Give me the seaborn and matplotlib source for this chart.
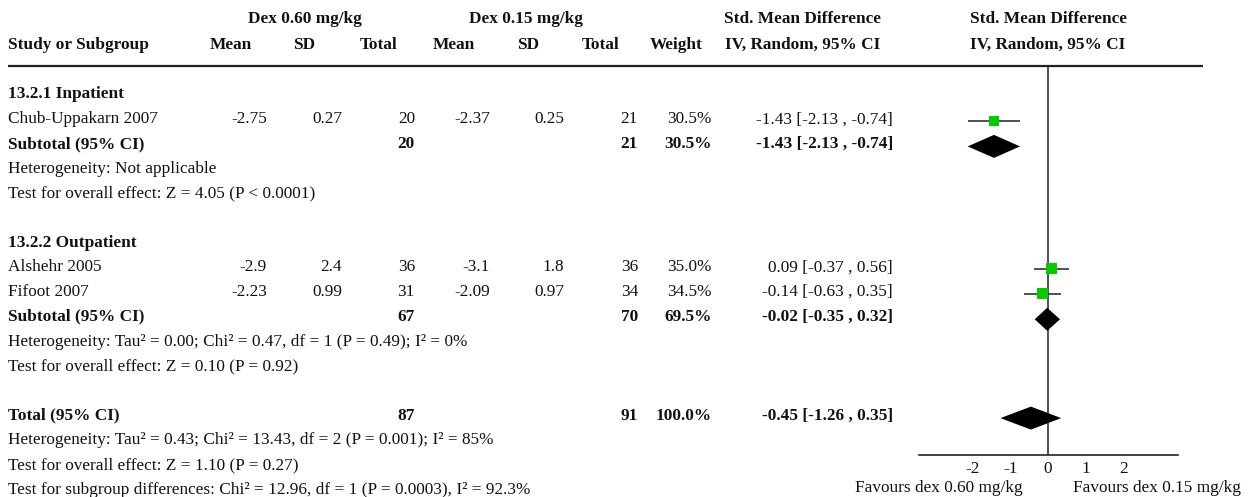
import matplotlib
matplotlib.use("Agg")
import matplotlib.pyplot as plt
import seaborn as sns
import pandas as pd

# ---- study-level data ----
groups = ["13.2.1 Inpatient", "13.2.2 Outpatient"]
studies = ["Chub-Uppakarn 2007", "Alshehr 2005", "Fifoot 2007"]
study_group = [0, 1, 1]
mean_060 = [-2.75, -2.9, -2.23]
sd_060 = [0.27, 2.4, 0.99]
n_060 = [20, 36, 31]
mean_015 = [-2.37, -3.1, -2.09]
sd_015 = [0.25, 1.8, 0.97]
n_015 = [21, 36, 34]
weights = [30.5, 35.0, 34.5]
smd = [-1.43, 0.09, -0.14]
ci_low = [-2.13, -0.37, -0.63]
ci_high = [-0.74, 0.56, 0.35]

# ---- pooled estimates: subtotal inpatient, subtotal outpatient, overall ----
pooled_labels = ["Subtotal (95% CI)", "Subtotal (95% CI)", "Total (95% CI)"]
pooled_n_060 = [20, 67, 87]
pooled_n_015 = [21, 70, 91]
pooled_weight = [30.5, 69.5, 100.0]
pooled_smd = [-1.43, -0.02, -0.45]
pooled_low = [-2.13, -0.35, -1.26]
pooled_high = [-0.74, 0.32, 0.35]

het_lines = [
    ["Heterogeneity: Not applicable",
     "Test for overall effect: Z = 4.05 (P < 0.0001)"],
    ["Heterogeneity: Tau\u00b2 = 0.00; Chi\u00b2 = 0.47, df = 1 (P = 0.49); I\u00b2 = 0%",
     "Test for overall effect: Z = 0.10 (P = 0.92)"],
    ["Heterogeneity: Tau\u00b2 = 0.43; Chi\u00b2 = 13.43, df = 2 (P = 0.001); I\u00b2 = 85%",
     "Test for overall effect: Z = 1.10 (P = 0.27)",
     "Test for subgroup differences: Chi\u00b2 = 12.96, df = 1 (P = 0.0003), I\u00b2 = 92.3%"],
]

x_ticks = [-2, -1, 0, 1, 2]
favours_left = "Favours dex 0.60 mg/kg"
favours_right = "Favours dex 0.15 mg/kg"

# ---- styling ----
sns.set_style("white")
plt.rcParams["font.family"] = ["Liberation Serif", "DejaVu Serif"]
FS = 12.4
TXT = "#111111"
GREEN = "#00CC00"

W, H = 1251, 497
fig = plt.figure(figsize=(W / 100, H / 100), dpi=100)
tab = fig.add_axes([0, 0, 1, 1])
tab.set_xlim(0, W)
tab.set_ylim(H, 0)
tab.axis("off")

ROW0, STEP = 93.0, 24.7


def row_y(i):
    return ROW0 + STEP * i


def put(x, i, s, ha="left", bold=False, dy=5.5):
    tab.text(x, row_y(i) + dy, s, ha=ha, va="baseline", fontsize=FS,
             fontweight="bold" if bold else "normal", color=TXT)


# column anchors (right edges of numeric columns)
X_STUDY = 8
cols = dict(m1=267, s1=342, n1=415, m2=490, s2=564, n2=638, w=712, ci=893)

# ---- header ----
hy1, hy2 = 23, 49
def head(x, y, s, ha="center"):
    tab.text(x, y, s, ha=ha, va="baseline", fontsize=FS, fontweight="bold", color=TXT)

head(305, hy1, "Dex 0.60 mg/kg")
head(526, hy1, "Dex 0.15 mg/kg")
head(803, hy1, "Std. Mean Difference")
head(1048, hy1, "Std. Mean Difference")
head(X_STUDY, hy2, "Study or Subgroup", ha="left")
head(231, hy2, "Mean")
head(304, hy2, "SD")
head(379, hy2, "Total")
head(454, hy2, "Mean")
head(528, hy2, "SD")
head(601, hy2, "Total")
head(676, hy2, "Weight")
head(803, hy2, "IV, Random, 95% CI")
head(1048, hy2, "IV, Random, 95% CI")

tab.plot([8, 1203], [66, 66], color="#222222", lw=1.6, solid_capstyle="butt")


def ci_text(e, lo, hi):
    return f"{e:.2f} [{lo:.2f} , {hi:.2f}]"


# ---- row layout ----
group_rows = [0, 6]
study_rows = [1, 7, 8]
pooled_rows = [2, 9, 13]
het_rows = [[3, 4], [10, 11], [14, 15, 16]]

for g, r in zip(groups, group_rows):
    put(X_STUDY, r, g, bold=True)

for k, r in enumerate(study_rows):
    put(X_STUDY, r, studies[k])
    put(cols["m1"], r, f"{mean_060[k]:g}", ha="right")
    put(cols["s1"], r, f"{sd_060[k]:g}", ha="right")
    put(cols["n1"], r, f"{n_060[k]}", ha="right")
    put(cols["m2"], r, f"{mean_015[k]:g}", ha="right")
    put(cols["s2"], r, f"{sd_015[k]:g}", ha="right")
    put(cols["n2"], r, f"{n_015[k]}", ha="right")
    put(cols["w"], r, f"{weights[k]:.1f}%", ha="right")
    put(cols["ci"], r, ci_text(smd[k], ci_low[k], ci_high[k]), ha="right")

for k, r in enumerate(pooled_rows):
    put(X_STUDY, r, pooled_labels[k], bold=True)
    put(cols["n1"], r, f"{pooled_n_060[k]}", ha="right", bold=True)
    put(cols["n2"], r, f"{pooled_n_015[k]}", ha="right", bold=True)
    put(cols["w"], r, f"{pooled_weight[k]:.1f}%", ha="right", bold=True)
    put(cols["ci"], r, ci_text(pooled_smd[k], pooled_low[k], pooled_high[k]),
        ha="right", bold=True)

for lines, rows in zip(het_lines, het_rows):
    for s, r in zip(lines, rows):
        put(X_STUDY, r, s)

# ---- forest panel ----
AX_L, AX_R, AX_TOP, AX_BOT = 919, 1178, 66, 455
XLIM = (-3.42, 3.45)
fp = fig.add_axes([AX_L / W, (H - AX_BOT) / H, (AX_R - AX_L) / W, (AX_BOT - AX_TOP) / H])
fp.set_xlim(*XLIM)
fp.set_ylim(AX_BOT, AX_TOP)
fp.patch.set_alpha(0)
for side in ("left", "right", "top"):
    fp.spines[side].set_visible(False)
fp.spines["bottom"].set_color("#222222")
fp.spines["bottom"].set_linewidth(1.2)
fp.set_yticks([])
fp.set_xticks(x_ticks)
fp.set_xticklabels([f"{t:g}" for t in x_ticks])
fp.tick_params(axis="x", direction="inout", length=9, width=1.1, color="#222222",
               labelsize=FS, labelcolor=TXT, pad=0)
fp.axvline(0, color="#222222", lw=1.1, zorder=1)

MARK_DY = 3.0
study_y = [row_y(r) + MARK_DY for r in study_rows]
df = pd.DataFrame({"smd": smd, "y": study_y, "weight": weights,
                   "lo": ci_low, "hi": ci_high})
fp.hlines(df["y"], df["lo"], df["hi"], color="#222222", lw=1.1, zorder=2)
sns.scatterplot(data=df, x="smd", y="y", size="weight", sizes=(50, 64),
                size_norm=(30.5, 35.0), marker="s", color=GREEN, linewidth=0,
                legend=False, ax=fp, zorder=3)
fp.set_xlabel("")
fp.set_ylabel("")

HALF = 11.5
for k, r in enumerate(pooled_rows):
    yc = row_y(r) + 4.0
    fp.fill([pooled_low[k], pooled_smd[k], pooled_high[k], pooled_smd[k]],
            [yc, yc - HALF, yc, yc + HALF], color="black", lw=0, zorder=4)

# favours labels below the axis
fav_y = 492
tab.text(1048 - 25, fav_y, favours_left, ha="right", va="baseline", fontsize=FS, color=TXT)
tab.text(1048 + 25, fav_y, favours_right, ha="left", va="baseline", fontsize=FS, color=TXT)

fig.savefig("out.png", dpi=100)
